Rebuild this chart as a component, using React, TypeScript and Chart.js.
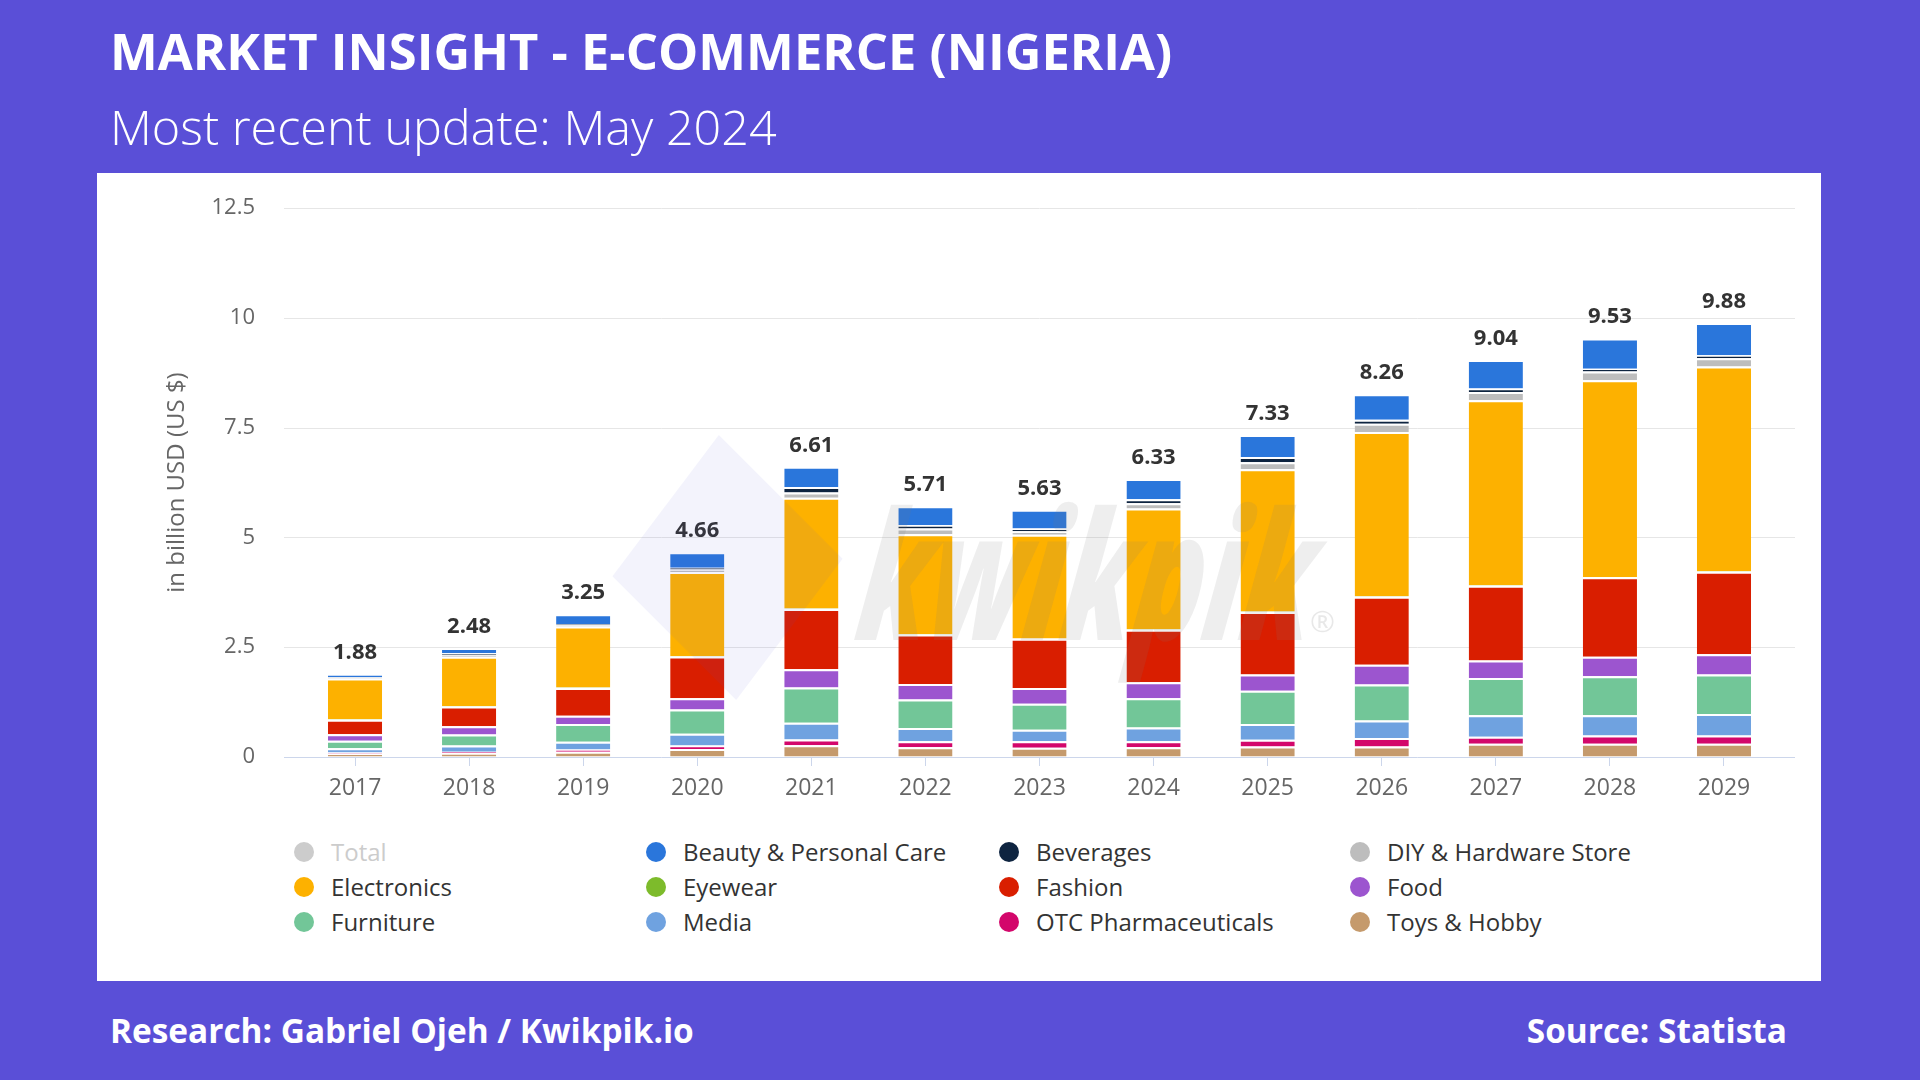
import React, { useEffect, useRef } from "react";
import { Chart, registerables } from "chart.js";

Chart.register(...registerables);

// ---------- DATA ----------
const years = ["2017", "2018", "2019", "2020", "2021", "2022", "2023", "2024", "2025", "2026", "2027", "2028", "2029"];
const totals = [1.88, 2.48, 3.25, 4.66, 6.61, 5.71, 5.63, 6.33, 7.33, 8.26, 9.04, 9.53, 9.88];

const toysHobby = [0.08, 0.09, 0.12, 0.18, 0.27, 0.22, 0.21, 0.22, 0.24, 0.24, 0.30, 0.30, 0.30];
const otcPharmaceuticals = [0.02, 0.03, 0.05, 0.08, 0.13, 0.14, 0.15, 0.14, 0.15, 0.19, 0.16, 0.19, 0.19];
const media = [0.10, 0.14, 0.18, 0.27, 0.38, 0.30, 0.26, 0.31, 0.36, 0.40, 0.49, 0.46, 0.49];
const furniture = [0.17, 0.25, 0.40, 0.55, 0.80, 0.65, 0.59, 0.67, 0.76, 0.82, 0.85, 0.89, 0.90];
const food = [0.15, 0.19, 0.19, 0.26, 0.42, 0.35, 0.36, 0.36, 0.37, 0.45, 0.40, 0.44, 0.46];
const fashion = [0.33, 0.45, 0.63, 0.95, 1.37, 1.13, 1.12, 1.20, 1.42, 1.55, 1.70, 1.81, 1.88];
const eyewear = [0.01, 0.01, 0.01, 0.01, 0.01, 0.01, 0.01, 0.01, 0.01, 0.01, 0.01, 0.01, 0.01];
const electronics = [0.93, 1.12, 1.39, 1.91, 2.52, 2.27, 2.36, 2.75, 3.24, 3.74, 4.21, 4.48, 4.66];
const diyHardware = [0.02, 0.05, 0.04, 0.06, 0.12, 0.13, 0.08, 0.12, 0.16, 0.19, 0.19, 0.20, 0.19];
const beverages = [0.01, 0.03, 0.02, 0.04, 0.13, 0.08, 0.06, 0.09, 0.12, 0.09, 0.08, 0.06, 0.07];
const beautyCare = [0.06, 0.12, 0.22, 0.35, 0.46, 0.43, 0.43, 0.46, 0.50, 0.58, 0.65, 0.69, 0.73];

const yTickValues = [0, 2.5, 5, 7.5, 10, 12.5];

// stacking order (bottom -> top)
const stackSeries = [
  { label: "Toys & Hobby", data: toysHobby, color: "#C59A6C" },
  { label: "OTC Pharmaceuticals", data: otcPharmaceuticals, color: "#D3076B" },
  { label: "Media", data: media, color: "#6FA2E0" },
  { label: "Furniture", data: furniture, color: "#72C698" },
  { label: "Food", data: food, color: "#9C55CF" },
  { label: "Fashion", data: fashion, color: "#D91E00" },
  { label: "Eyewear", data: eyewear, color: "#7DBB2B" },
  { label: "Electronics", data: electronics, color: "#FDB100" },
  { label: "DIY & Hardware Store", data: diyHardware, color: "#BDBDBD" },
  { label: "Beverages", data: beverages, color: "#0E2440" },
  { label: "Beauty & Personal Care", data: beautyCare, color: "#2A76DB" },
];

const legendOrder = [
  "Total",
  "Beauty & Personal Care",
  "Beverages",
  "DIY & Hardware Store",
  "Electronics",
  "Eyewear",
  "Fashion",
  "Food",
  "Furniture",
  "Media",
  "OTC Pharmaceuticals",
  "Toys & Hobby",
];

// ---------- LAYOUT ----------
const PANEL = { left: 97, top: 173, width: 1724, height: 808 };
const CANVAS_H = 660;
const GRID_LEFT = 284 - PANEL.left;
const GRID_RIGHT = 1795 - PANEL.left;
const FONT = "'Open Sans', 'DejaVu Sans', sans-serif";

const extGridPlugin = {
  id: "extGrid",
  beforeDatasetsDraw(chart: any) {
    const { ctx } = chart;
    const y = chart.scales.y;
    ctx.save();
    ctx.lineWidth = 1;
    yTickValues.forEach((v) => {
      const py = Math.round(y.getPixelForValue(v)) + 0.5;
      ctx.strokeStyle = v === 0 ? "#ccd6eb" : "#e6e6e6";
      ctx.beginPath();
      ctx.moveTo(GRID_LEFT, py);
      ctx.lineTo(GRID_RIGHT, py);
      ctx.stroke();
    });
    ctx.restore();
  },
};

const totalLabelPlugin = {
  id: "totalLabels",
  afterDatasetsDraw(chart: any) {
    const { ctx } = chart;
    const x = chart.scales.x;
    const y = chart.scales.y;
    ctx.save();
    ctx.font = `bold 22px ${FONT}`;
    ctx.fillStyle = "#333333";
    ctx.textAlign = "center";
    ctx.textBaseline = "alphabetic";
    totals.forEach((t, i) => {
      ctx.fillText(t.toFixed(2), x.getPixelForValue(i), y.getPixelForValue(t) - 15);
    });
    ctx.restore();
  },
};

function ChartCanvas() {
  const ref = useRef<HTMLCanvasElement | null>(null);
  useEffect(() => {
    if (!ref.current) return;
    const datasets: any[] = stackSeries.map((s) => ({
      label: s.label,
      data: s.data,
      backgroundColor: s.color,
      borderColor: "#ffffff",
      borderWidth: { top: 2, right: 0, bottom: 0, left: 0 },
      borderSkipped: false,
      stack: "main",
      categoryPercentage: 1,
      barPercentage: 0.475,
    }));
    datasets.push({
      label: "Total",
      data: totals,
      backgroundColor: "#cccccc",
      hidden: true,
      stack: "total",
    });
    const chart = new Chart(ref.current, {
      type: "bar",
      data: { labels: years, datasets },
      options: {
        animation: false,
        responsive: false,
        maintainAspectRatio: false,
        layout: { padding: { left: 66, right: 40, top: 35, bottom: 26 } },
        plugins: {
          legend: { display: false },
          tooltip: { enabled: false },
        },
        scales: {
          x: {
            stacked: true,
            afterFit: (s: any) => {
              s.height = 50;
            },
            grid: {
              display: true,
              drawOnChartArea: false,
              drawTicks: true,
              tickLength: 9,
              color: "#ccd6eb",
              offset: false,
            },
            border: { display: false },
            ticks: {
              color: "#666666",
              font: { family: FONT, size: 23 },
              padding: 9,
              autoSkip: false,
              maxRotation: 0,
            },
          },
          y: {
            stacked: true,
            min: 0,
            max: 12.5,
            afterFit: (s: any) => {
              s.width = 135;
            },
            afterBuildTicks: (s: any) => {
              s.ticks = yTickValues.map((v) => ({ value: v }));
            },
            grid: {
              display: true,
              drawOnChartArea: false,
              drawTicks: true,
              tickLength: 43,
              color: "rgba(0,0,0,0)",
            },
            border: { display: false },
            ticks: {
              color: "#666666",
              font: { family: FONT, size: 22 },
              padding: 0,
            },
            title: {
              display: true,
              text: "in billion USD (US $)",
              color: "#666666",
              font: { family: FONT, size: 24 },
              padding: 0,
            },
          },
        },
      },
      plugins: [extGridPlugin, totalLabelPlugin],
    });
    return () => chart.destroy();
  }, []);
  return (
    <canvas
      ref={ref}
      width={PANEL.width}
      height={CANVAS_H}
      style={{ position: "absolute", left: 0, top: 0, width: PANEL.width, height: CANVAS_H }}
    />
  );
}

const colorFor = (label: string) => {
  if (label === "Total") return "#cccccc";
  const s = stackSeries.find((x) => x.label === label);
  return s ? s.color : "#ccc";
};

const legendColX = [304, 656, 1009, 1360];
const legendRowY = [852, 887, 922];

export default function App() {
  return (
    <div
      style={{
        position: "fixed",
        left: 0,
        top: 0,
        width: 1920,
        height: 1080,
        background: "#5A4FD7",
        overflow: "hidden",
        fontFamily: FONT,
      }}
    >
      <div
        style={{
          position: "absolute",
          left: 110,
          top: 18,
          color: "#fff",
          fontSize: 50.7,
          fontWeight: 700,
          lineHeight: "66px",
          whiteSpace: "nowrap",
        }}
      >
        MARKET INSIGHT - E-COMMERCE (NIGERIA)
      </div>
      <div
        style={{
          position: "absolute",
          left: 110,
          top: 94,
          color: "#fff",
          fontSize: 48.5,
          fontWeight: 300,
          lineHeight: "64px",
          whiteSpace: "nowrap",
        }}
      >
        Most recent update: May 2024
      </div>

      <div
        style={{
          position: "absolute",
          left: PANEL.left,
          top: PANEL.top,
          width: PANEL.width,
          height: PANEL.height,
          background: "#ffffff",
        }}
      >
        <ChartCanvas />
      </div>

      {/* watermark */}
      <div
        style={{
          position: "absolute",
          left: 640,
          top: 480,
          width: 175,
          height: 175,
          background: "rgba(91,80,216,0.07)",
          transform: "rotate(45deg) skewX(8deg)",
          pointerEvents: "none",
        }}
      />
      <div
        style={{
          position: "absolute",
          left: 850,
          top: 482,
          fontSize: 178,
          lineHeight: 1,
          fontWeight: 800,
          fontStyle: "italic",
          color: "rgba(120,120,120,0.13)",
          transform: "scaleX(0.65) skewX(-12deg)",
          transformOrigin: "left bottom",
          whiteSpace: "nowrap",
          pointerEvents: "none",
        }}
      >
        kwikpik
      </div>
      <div
        style={{
          position: "absolute",
          left: 1310,
          top: 606,
          fontSize: 30,
          lineHeight: 1,
          color: "rgba(110,110,110,0.16)",
          pointerEvents: "none",
        }}
      >
        ®
      </div>

      {/* legend */}
      {legendOrder.map((label, i) => {
        const col = i % 4;
        const row = Math.floor(i / 4);
        const cx = legendColX[col];
        const cy = legendRowY[row];
        return (
          <div key={label}>
            <div
              style={{
                position: "absolute",
                left: cx - 10,
                top: cy - 10,
                width: 20,
                height: 20,
                borderRadius: 10,
                background: colorFor(label),
              }}
            />
            <div
              style={{
                position: "absolute",
                left: cx + 27,
                top: cy - 17,
                height: 34,
                lineHeight: "34px",
                fontSize: 24,
                color: label === "Total" ? "#cccccc" : "#333333",
                whiteSpace: "nowrap",
              }}
            >
              {label}
            </div>
          </div>
        );
      })}

      <div
        style={{
          position: "absolute",
          left: 110,
          top: 1007,
          color: "#fff",
          fontSize: 33.4,
          fontWeight: 700,
          lineHeight: "46px",
          whiteSpace: "nowrap",
        }}
      >
        Research: Gabriel Ojeh / Kwikpik.io
      </div>
      <div
        style={{
          position: "absolute",
          right: 1920 - 1787,
          top: 1007,
          color: "#fff",
          fontSize: 33.4,
          fontWeight: 700,
          lineHeight: "46px",
          whiteSpace: "nowrap",
        }}
      >
        Source: Statista
      </div>
    </div>
  );
}
